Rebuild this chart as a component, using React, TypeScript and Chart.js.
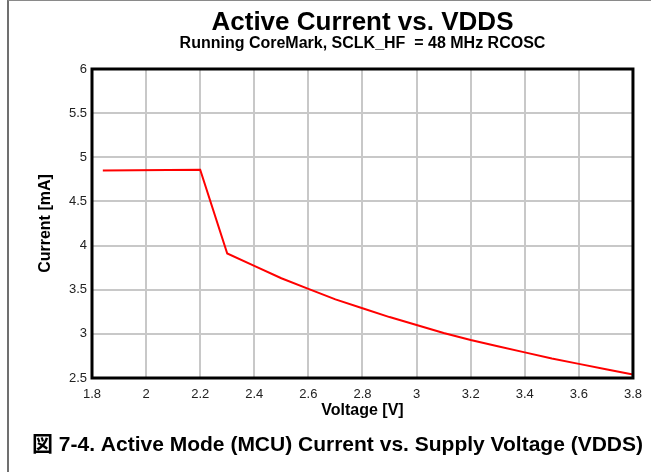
import React, { useEffect, useRef } from "react";
import { Chart, registerables } from "chart.js";

Chart.register(...registerables);

const voltages = [1.84, 2.2, 2.3, 2.4, 2.5, 2.6, 2.7, 2.8, 2.9, 3.0, 3.1, 3.2, 3.3, 3.4, 3.5, 3.6, 3.7, 3.8];
const currents = [4.85, 4.86, 3.91, 3.77, 3.63, 3.51, 3.39, 3.29, 3.19, 3.1, 3.01, 2.93, 2.86, 2.79, 2.72, 2.66, 2.6, 2.54];
const xTicks = [1.8, 2.0, 2.2, 2.4, 2.6, 2.8, 3.0, 3.2, 3.4, 3.6, 3.8];
const yTicks = [2.5, 3.0, 3.5, 4.0, 4.5, 5.0, 5.5, 6.0];

const titleText = "Active Current vs. VDDS";
const subtitleText = "Running CoreMark, SCLK_HF  = 48 MHz RCOSC";
const xTitle = "Voltage [V]";
const yTitle = "Current [mA]";
const captionText = "図 7-4. Active Mode (MCU) Current vs. Supply Voltage (VDDS)";

const FONT = "'Liberation Sans', Arial, Helvetica, sans-serif";

const fmt = (v: number) => String(Number(Number(v).toFixed(1)));

const frameBorder = {
  id: "frameBorder",
  afterDraw(chart: any) {
    const { ctx, chartArea } = chart;
    ctx.save();
    ctx.strokeStyle = "#000";
    ctx.lineWidth = 3;
    ctx.strokeRect(chartArea.left, chartArea.top, chartArea.right - chartArea.left, chartArea.bottom - chartArea.top);
    ctx.restore();
  },
};

export default function App() {
  const ref = useRef<HTMLCanvasElement>(null);
  useEffect(() => {
    if (!ref.current) return;
    const chart = new Chart(ref.current, {
      type: "line",
      data: {
        datasets: [
          {
            data: voltages.map((v, i) => ({ x: v, y: currents[i] })),
            borderColor: "#ff0000",
            borderWidth: 2,
            pointRadius: 0,
            tension: 0,
            fill: false,
          },
        ],
      },
      plugins: [frameBorder],
      options: {
        animation: false,
        responsive: false,
        maintainAspectRatio: false,
        layout: { padding: { left: 20, right: 17, top: 0, bottom: 52 } },
        plugins: {
          legend: { display: false },
          tooltip: { enabled: false },
          title: {
            display: true,
            text: titleText,
            fullSize: false,
            color: "#000",
            font: { family: FONT, size: 26, weight: "bold", lineHeight: 1 },
            padding: { top: 9.7, bottom: 0 },
          },
          subtitle: {
            display: true,
            text: subtitleText,
            fullSize: false,
            color: "#000",
            font: { family: FONT, size: 16, weight: "bold", lineHeight: 1 },
            padding: { top: 0, bottom: 17.3 },
          },
        },
        scales: {
          x: {
            type: "linear",
            min: 1.8,
            max: 3.8,
            afterBuildTicks: (s: any) => {
              s.ticks = xTicks.map((v) => ({ value: v }));
            },
            afterFit: (s: any) => {
              s.height = 42;
            },
            ticks: {
              callback: (v: any) => fmt(v),
              color: "#222",
              font: { family: FONT, size: 13 },
              padding: 9,
              maxRotation: 0,
              autoSkip: false,
            },
            grid: { color: "#c8c8c8", lineWidth: 2, drawTicks: false },
            border: { display: false },
            title: {
              display: true,
              text: xTitle,
              color: "#000",
              font: { family: FONT, size: 16, weight: "bold" },
              padding: { top: 0, bottom: 0 },
            },
          },
          y: {
            type: "linear",
            min: 2.5,
            max: 6,
            afterBuildTicks: (s: any) => {
              s.ticks = yTicks.map((v) => ({ value: v }));
            },
            afterFit: (s: any) => {
              s.width = 72;
            },
            ticks: {
              callback: (v: any) => fmt(v),
              color: "#222",
              font: { family: FONT, size: 13 },
              padding: 5,
              autoSkip: false,
            },
            grid: { color: "#c8c8c8", lineWidth: 2, drawTicks: false },
            border: { display: false },
            title: {
              display: true,
              text: yTitle,
              color: "#000",
              font: { family: FONT, size: 16, weight: "bold" },
              padding: { top: 16.4, bottom: 0 },
            },
          },
        },
      },
    } as any);
    return () => chart.destroy();
  }, []);

  return (
    <div style={{ position: "fixed", left: 0, top: 0, width: 651, height: 472, background: "#fff", overflow: "hidden" }}>
      <div
        style={{
          position: "absolute",
          left: 7,
          top: 0,
          width: 644,
          height: 472,
          borderLeft: "2px solid #707070",
          borderTop: "1px solid #8a8a8a",
          boxSizing: "border-box",
        }}
      />
      <canvas ref={ref} width={651} height={472} style={{ position: "absolute", left: 0, top: 0, width: 651, height: 472 }} />
      <div
        style={{
          position: "absolute",
          left: 32,
          top: 432,
          fontFamily: "'Liberation Sans', Arial, 'Noto Sans CJK JP', sans-serif",
          fontWeight: "bold",
          fontSize: 21,
          color: "#000",
          whiteSpace: "pre",
          lineHeight: "24px",
        }}
      >
        {captionText}
      </div>
    </div>
  );
}
